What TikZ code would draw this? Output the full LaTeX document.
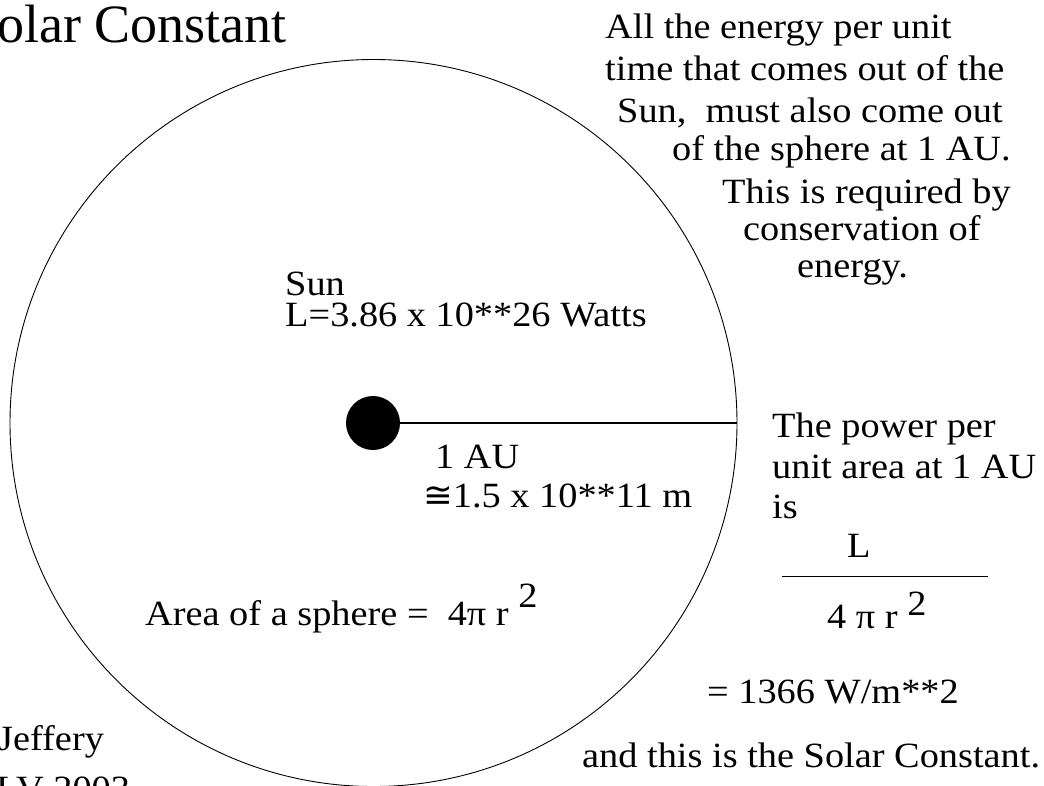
\documentclass[tikz,border=0pt]{standalone}
\usepackage{fontspec}
\setmainfont{Liberation Serif}[FakeStretch=1.08]
\newfontfamily\titlefont{Liberation Serif}
\newfontfamily\symfont{DejaVu Sans}
\begin{document}
\begin{tikzpicture}[x=1pt,y=-1pt,
  txt/.style={anchor=base west,inner sep=0pt,font=\fontsize{35.5}{40}\selectfont},
  ttl/.style={anchor=base west,inner sep=0pt,font=\titlefont\fontsize{54}{60}\selectfont},
  thin/.style={line width=0.9pt}]
\useasboundingbox (0,0) rectangle (1044,785);
\clip (0,0) rectangle (1044,785);
\fill[white] (0,0) rectangle (1044,785);
% sphere and sun
\node[circle,draw,thin,minimum size=727pt,inner sep=0pt] (sphere) at (373.5,423) {};
\node[circle,fill=black,minimum size=54pt,inner sep=0pt] (sun) at (373,423) {};
\draw[line width=1.2pt] (sun.center) -- (sphere.east);
% title
\node[ttl] (title) at (-3,42) {olar Constant};
% right block
\node[txt] (r1) at (605,38) {All the energy per unit};
\node[txt] (r2) at (605,80) {time that comes out of the};
\node[txt] (r3) at (617,122) {Sun,~ must also come out};
\node[txt] (r4) at (672,160) {of the sphere at 1 AU.};
\node[txt] (r5) at (722,203) {This is required by};
\node[txt] (r6) at (743,240) {conservation of};
\node[txt] (r7) at (797,277) {energy.};
% sun labels
\node[txt] (sunlbl) at (285,295) {Sun};
\node[txt] (lum) at (285,326) {L=3.86 x 10**26 Watts};
\node[txt] (au) at (435,468) {1 AU};
\node[txt] (dist) at (423,507) {{\symfont ≅}1.5 x 10**11 m};
% area
\node[txt] (area) at (145,625) {Area of a sphere =~ 4π r \raisebox{18pt}{2}};
% power
\node[txt] (p1) at (772,437) {The power per};
\node[txt] (p2) at (772,478) {unit area at 1 AU};
\node[txt] (p3) at (772,518) {is};
\node[txt] (num) at (847,557) {L};
\coordinate (fl) at (782,576);
\coordinate (fr) at (988,576);
\draw[thin] (fl) -- (fr);
\node[txt] (den) at (827,628) {4 π r \raisebox{13pt}{2}};
\node[txt] (val) at (707,703) {= 1366 W/m**2};
\node[txt] (concl) at (582,767) {and this is the Solar Constant.};
% author
\node[txt] (auth1) at (-2,750) {Jeffery};
\node[txt] (auth2) at (-4,800) {LV 2003};
\end{tikzpicture}
\end{document}
